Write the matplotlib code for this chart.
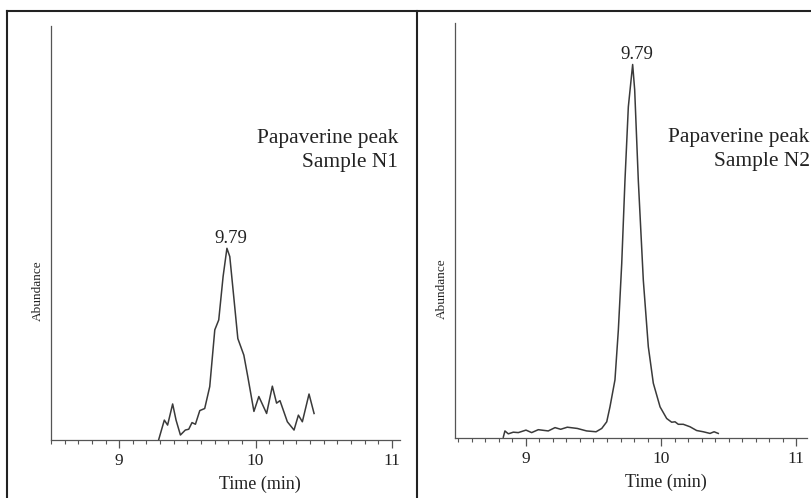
import numpy as np
import matplotlib
matplotlib.use('Agg')
import matplotlib.pyplot as plt
from matplotlib.lines import Line2D
from matplotlib.ticker import MultipleLocator

plt.rcParams['font.family'] = ['Liberation Serif', 'DejaVu Serif']

# sample N1 trace (time in min, abundance in % of axis height)
t_n1 = [9.289, 9.331, 9.355, 9.392, 9.417, 9.449, 9.485, 9.510, 9.534, 9.559,
        9.591, 9.627, 9.664, 9.701, 9.730, 9.762, 9.790, 9.811, 9.840, 9.870,
        9.914, 9.943, 9.988, 10.024, 10.081, 10.123, 10.154, 10.179, 10.233,
        10.282, 10.314, 10.343, 10.392, 10.429]
a_n1 = [0.0, 4.8, 3.6, 8.7, 4.8, 1.2, 2.4, 2.6, 4.2, 3.8,
        7.1, 7.6, 12.9, 26.6, 29.0, 39.5, 46.3, 44.3, 34.6, 24.5,
        20.5, 15.3, 6.9, 10.5, 6.4, 13.0, 8.9, 9.5, 4.4,
        2.4, 6.0, 4.4, 11.1, 6.4]

# sample N2 trace
t_n2 = [8.832, 8.844, 8.869, 8.906, 8.943, 9.000, 9.042, 9.091, 9.165, 9.215,
        9.257, 9.306, 9.380, 9.449, 9.519, 9.561, 9.598, 9.622, 9.659, 9.684,
        9.709, 9.733, 9.758, 9.790, 9.805, 9.832, 9.869, 9.906, 9.943, 9.993,
        10.042, 10.079, 10.104, 10.128, 10.165, 10.215, 10.264, 10.313, 10.363,
        10.393, 10.424]
a_n2 = [0.2, 1.7, 1.0, 1.4, 1.3, 1.9, 1.3, 2.0, 1.7, 2.5,
        2.1, 2.6, 2.3, 1.7, 1.5, 2.3, 3.9, 7.5, 14.0, 26.0,
        42.0, 62.0, 79.8, 90.0, 83.9, 62.0, 38.0, 22.0, 13.2, 7.5,
        4.7, 3.8, 3.9, 3.3, 3.3, 2.7, 1.8, 1.5, 1.1,
        1.5, 1.1]

peak_time = 9.79
samples = ['N1', 'N2']

fig = plt.figure(figsize=(8.12, 4.98), dpi=100)

# panel rects [left, bottom, width, height], x limits, label positions
rects = [[0.0628, 0.1165, 0.4298, 0.8313], [0.5603, 0.1205, 0.4335, 0.8333]]
xlims = [(8.5, 11.059), (8.474, 11.081)]
traces = [(t_n1, a_n1), (t_n2, a_n2)]
label_x = [0.994, 1.008]
label_y = [(0.729, 0.671), (0.725, 0.667)]

for k in range(2):
    ax = fig.add_axes(rects[k])
    tt, aa = traces[k]
    ax.plot(tt, aa, color='#3a3a3a', lw=1.1, solid_joinstyle='round')
    ax.set_xlim(*xlims[k])
    ax.set_ylim(0, 100)
    for s in ['top', 'right']:
        ax.spines[s].set_visible(False)
    for s in ['left', 'bottom']:
        ax.spines[s].set_color('#555555')
        ax.spines[s].set_linewidth(0.9)
    ax.set_yticks([])
    ax.xaxis.set_major_locator(MultipleLocator(1))
    ax.xaxis.set_minor_locator(MultipleLocator(0.1))
    ax.tick_params(axis='x', which='major', length=5.5, width=0.9, color='#555555',
                   labelsize=12.5, pad=4, labelcolor='#222222')
    ax.tick_params(axis='x', which='minor', length=3, width=0.8, color='#555555')
    ax.patch.set_alpha(0)

    ipk = int(np.argmax(aa))
    ax.annotate('9.79', xy=(peak_time, aa[ipk]), xytext=(3, 4), textcoords='offset points',
                ha='center', va='baseline', fontsize=13.5, color='#222222')
    ax.text(label_x[k], label_y[k][0], 'Papaverine peak', transform=ax.transAxes, ha='right',
            va='center', fontsize=15.5, color='#222222')
    ax.text(label_x[k], label_y[k][1], 'Sample ' + samples[k], transform=ax.transAxes, ha='right',
            va='center', fontsize=15.5, color='#222222')
    ax.text(10.035, -0.107, 'Time (min)', transform=ax.get_xaxis_transform(),
            ha='center', va='center', fontsize=13, color='#222222')
    ax.text(-0.038, 0.36, 'Abundance', transform=ax.transAxes, rotation=90,
            ha='center', va='center', fontsize=9.5, color='#222222')

# outer frame and divider
W, H = 812.0, 498.0
fig.add_artist(Line2D([7 / W, 1.0], [1 - 11 / H, 1 - 11 / H], color='#222222', lw=1.5))
fig.add_artist(Line2D([7 / W, 7 / W], [0, 1 - 11 / H], color='#222222', lw=1.5))
fig.add_artist(Line2D([417 / W, 417 / W], [0, 1 - 11 / H], color='#222222', lw=1.5))

fig.savefig('out.png', dpi=100)
